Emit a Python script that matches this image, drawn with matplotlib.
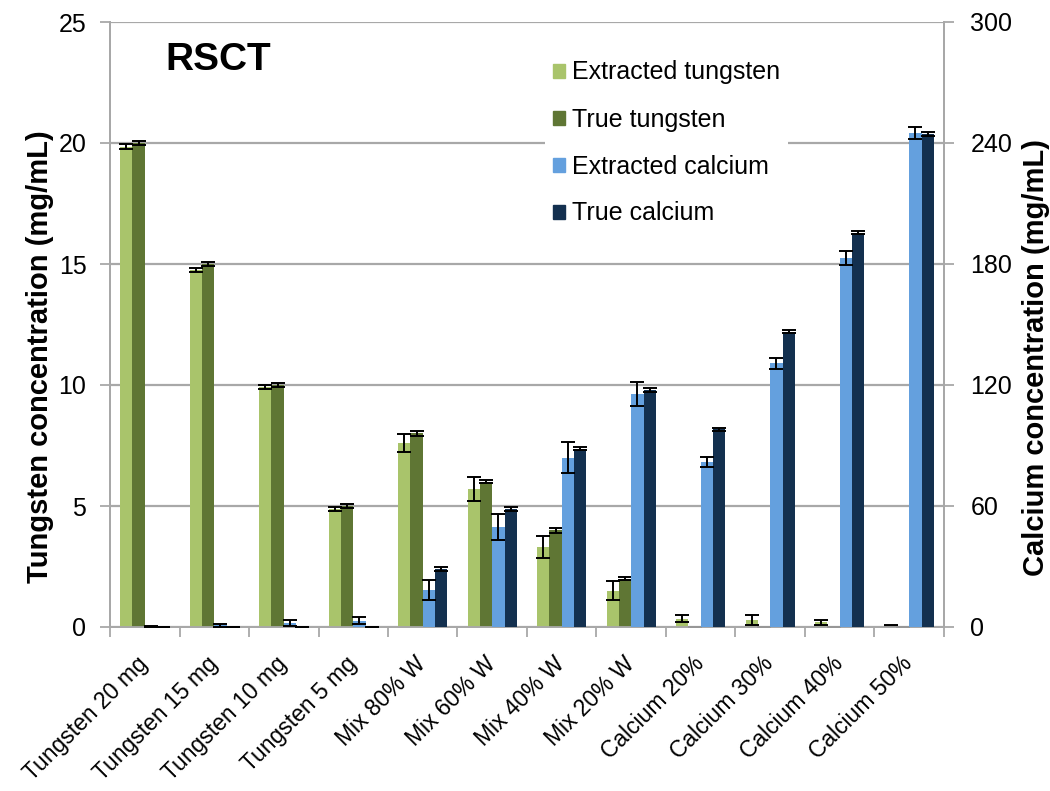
import numpy as np
import matplotlib
matplotlib.use("Agg")
import matplotlib.pyplot as plt
from matplotlib.patches import Patch

plt.rcParams['font.family'] = ['Liberation Sans', 'DejaVu Sans']

categories = ["Tungsten 20 mg", "Tungsten 15 mg", "Tungsten 10 mg", "Tungsten 5 mg",
              "Mix 80% W", "Mix 60% W", "Mix 40% W", "Mix 20% W",
              "Calcium 20%", "Calcium 30%", "Calcium 40%", "Calcium 50%"]

# tungsten, left axis (mg/mL)
ext_w = [19.85, 14.75, 9.9, 4.88, 7.6, 5.7, 3.3, 1.5, 0.35, 0.3, 0.2, 0.05]
ext_w_err = [0.1, 0.1, 0.08, 0.08, 0.36, 0.5, 0.45, 0.4, 0.15, 0.2, 0.1, 0.02]
true_w = [20, 15, 10, 5, 8, 6, 4, 2, 0, 0, 0, 0]
true_w_err = [0.07, 0.07, 0.07, 0.07, 0.1, 0.07, 0.1, 0.07, 0, 0, 0, 0]

# calcium, right axis (mg/mL)
ext_ca = [0.3, 0.8, 1.8, 3.1, 18.3, 49.4, 84, 115.5, 82, 130.7, 183.1, 245.1]
ext_ca_err = [0.3, 0.8, 1.5, 1.8, 5, 6.5, 7.5, 6, 2.5, 2.7, 3.5, 3]
true_ca = [0, 0, 0, 0, 29, 58.5, 88.5, 117.5, 98, 146.5, 195.5, 244.5]
true_ca_err = [0, 0, 0, 0, 1, 1, 0.8, 0.8, 0.8, 0.8, 0.8, 0.8]

c_ext_w = "#A9C46B"
c_true_w = "#5F7634"
c_ext_ca = "#64A0DE"
c_true_ca = "#13304F"
grid_c = "#A8A8A8"

fig = plt.figure(figsize=(10.5, 7.91), dpi=100)
ax = fig.add_axes([110 / 1050, 1 - 627 / 791, 834 / 1050, 605 / 791])
ax2 = ax.twinx()

x = np.arange(len(categories))
w = 0.178
ekw = dict(ecolor="black", elinewidth=1.4, capsize=5, capthick=1.4)

ax.bar(x - 1.5 * w, ext_w, w, yerr=ext_w_err, color=c_ext_w, error_kw=ekw, zorder=3)
ax.bar(x - 0.5 * w, true_w, w, yerr=true_w_err, color=c_true_w, error_kw=ekw, zorder=3)
ax2.bar(x + 0.5 * w, ext_ca, w, yerr=ext_ca_err, color=c_ext_ca, error_kw=ekw, zorder=3)
ax2.bar(x + 1.5 * w, true_ca, w, yerr=true_ca_err, color=c_true_ca, error_kw=ekw, zorder=3)

ax.set_xlim(-0.5, len(categories) - 0.5)
ax.set_ylim(0, 25)
ax2.set_ylim(0, 300)
ax.set_yticks(np.arange(0, 26, 5))
ax2.set_yticks(np.arange(0, 301, 60))
ax.yaxis.grid(True, color=grid_c, linewidth=1.6, zorder=0)
ax.set_axisbelow(True)

ax.set_xticks(x)
ax.set_xticks(np.arange(-0.5, len(categories), 1), minor=True)
ax.set_xticklabels(categories, rotation=45, ha="right", va="center",
                   rotation_mode="anchor", fontsize=16.5)
ax.tick_params(axis="x", which="major", length=0, pad=24)
ax.tick_params(axis="x", which="minor", length=7, width=1.3, color=grid_c)
ax.tick_params(axis="y", length=7, width=1.3, color=grid_c, labelsize=18, pad=10)
ax2.tick_params(axis="y", length=7, width=1.3, color=grid_c, labelsize=18, pad=12)

for a in (ax, ax2):
    for s in a.spines.values():
        s.set_color(grid_c)
        s.set_linewidth(1.3)
    a.spines["top"].set_visible(False)

fig.text(40 / 1050, 1 - 357 / 791, "Tungsten concentration (mg/mL)", rotation=90,
         ha="center", va="center", fontsize=21, fontweight="bold")
fig.text(1036 / 1050, 1 - 357 / 791, "Calcium concentration (mg/mL)", rotation=90,
         ha="center", va="center", fontsize=21, fontweight="bold")
fig.text(165 / 1050, 1 - 60 / 791, "RSCT", ha="left", va="center",
         fontsize=28, fontweight="bold")

handles = [Patch(color=c_ext_w, label="Extracted tungsten"),
           Patch(color=c_true_w, label="True tungsten"),
           Patch(color=c_ext_ca, label="Extracted calcium"),
           Patch(color=c_true_ca, label="True calcium")]
leg = ax2.legend(handles=handles, loc="upper left",
                 bbox_to_anchor=(545 / 1050, 1 - 53 / 791),
                 bbox_transform=fig.transFigure, fontsize=18, frameon=True,
                 facecolor="white", edgecolor="none", framealpha=1,
                 handlelength=0.5, handleheight=0.5, handletextpad=0.3,
                 labelspacing=0.92, borderpad=0.3, borderaxespad=0, fancybox=False)
leg.set_zorder(5)

fig.savefig("out.png", dpi=100)
